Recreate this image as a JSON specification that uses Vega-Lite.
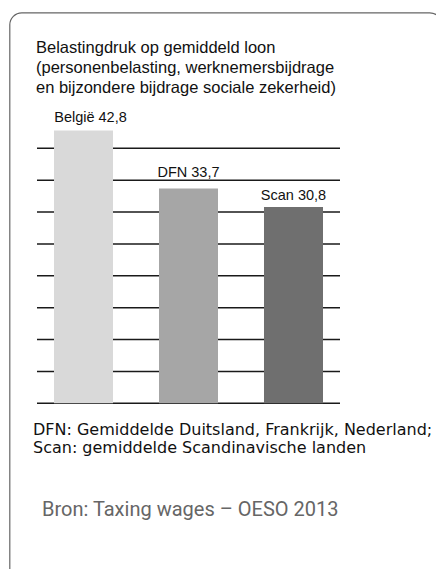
{
  "$schema": "https://vega.github.io/schema/vega-lite/v6.json",
  "width": 432,
  "height": 600,
  "padding": {"left": 9.5, "top": 12.5, "right": 0, "bottom": 0},
  "background": "white",
  "config": {
    "view": {"stroke": "#666666", "strokeWidth": 1.2, "cornerRadius": 12},
    "font": "Liberation Sans",
    "text": {"color": "#111111"}
  },
  "datasets": {
    "landen": [
      {"land": "België", "waarde": 42.8, "label": "België 42,8"},
      {"land": "DFN", "waarde": 33.7, "label": "DFN 33,7"},
      {"land": "Scan", "waarde": 30.8, "label": "Scan 30,8"}
    ],
    "raster": [
      {"tarief": 0}, {"tarief": 5}, {"tarief": 10}, {"tarief": 15}, {"tarief": 20},
      {"tarief": 25}, {"tarief": 30}, {"tarief": 35}, {"tarief": 40}
    ],
    "een": [{}]
  },
  "layer": [
    {
      "data": {"name": "raster"},
      "mark": {"type": "tick", "size": 303, "thickness": 1.5, "color": "#1a1a1a", "opacity": 1},
      "encoding": {
        "x": {"datum": "DFN", "type": "nominal", "axis": null},
        "y": {"field": "tarief", "type": "quantitative", "axis": null}
      }
    },
    {
      "data": {"name": "landen"},
      "mark": {"type": "bar"},
      "encoding": {
        "x": {
          "field": "land", "type": "nominal", "axis": null,
          "scale": {"domain": ["België", "DFN", "Scan"], "paddingInner": 0.4381, "paddingOuter": 0.7762, "align": 0.273, "round": false}
        },
        "y": {
          "field": "waarde", "type": "quantitative",
          "scale": {"domain": [-32.82, 61.3], "nice": false, "zero": false},
          "axis": {
            "title": "tarief (in%)", "domain": false, "ticks": false, "labels": false, "grid": false,
            "titleX": 12, "titleY": 240.5, "titleFontSize": 14.5, "titleFontWeight": "normal",
            "titleColor": "#111111", "titleFont": "Liberation Sans", "titleAngle": 270,
            "titleBaseline": "middle", "titleAlign": "center"
          }
        },
        "y2": {"datum": 0},
        "color": {
          "field": "land", "type": "nominal", "legend": null,
          "scale": {"domain": ["België", "DFN", "Scan"], "range": ["#d9d9d9", "#a6a6a6", "#6f6f6f"]}
        }
      }
    },
    {
      "data": {"name": "landen"},
      "transform": [{"filter": "datum.land === 'België'"}],
      "mark": {"type": "text", "fontSize": 14.5, "baseline": "alphabetic", "dy": -8.5, "dx": 7},
      "encoding": {
        "x": {"field": "land", "type": "nominal", "axis": null},
        "y": {"field": "waarde", "type": "quantitative", "axis": null},
        "text": {"field": "label"}
      }
    },
    {
      "data": {"name": "landen"},
      "transform": [{"filter": "datum.land === 'DFN'"}],
      "mark": {"type": "text", "fontSize": 14.5, "baseline": "alphabetic", "dy": -11},
      "encoding": {
        "x": {"field": "land", "type": "nominal", "axis": null},
        "y": {"field": "waarde", "type": "quantitative", "axis": null},
        "text": {"field": "label"}
      }
    },
    {
      "data": {"name": "landen"},
      "transform": [{"filter": "datum.land === 'Scan'"}],
      "mark": {"type": "text", "fontSize": 14.5, "baseline": "alphabetic", "dy": -6.5},
      "encoding": {
        "x": {"field": "land", "type": "nominal", "axis": null},
        "y": {"field": "waarde", "type": "quantitative", "axis": null},
        "text": {"field": "label"}
      }
    },
    {
      "data": {"name": "een"},
      "mark": {
        "type": "text",
        "text": ["Belastingdruk op gemiddeld loon", "(personenbelasting, werknemersbijdrage", "en bijzondere bijdrage sociale zekerheid)"],
        "align": "left", "baseline": "alphabetic", "fontSize": 16.5, "lineHeight": 19.7, "dx": -47.5
      },
      "encoding": {
        "x": {"datum": "België", "type": "nominal", "axis": null},
        "y": {"datum": 54.9, "type": "quantitative", "axis": null}
      }
    },
    {
      "data": {"name": "een"},
      "mark": {
        "type": "text",
        "text": ["DFN: Gemiddelde Duitsland, Frankrijk, Nederland;", "Scan: gemiddelde Scandinavische landen"],
        "align": "left", "baseline": "alphabetic", "fontSize": 16, "lineHeight": 18, "dx": -50.5,
        "font": "DejaVu Sans"
      },
      "encoding": {
        "x": {"datum": "België", "type": "nominal", "axis": null},
        "y": {"datum": -4.97, "type": "quantitative", "axis": null}
      }
    },
    {
      "data": {"name": "een"},
      "mark": {
        "type": "text",
        "text": "Bron: Taxing wages – OESO 2013",
        "align": "left", "baseline": "alphabetic", "fontSize": 20, "dx": -41.5,
        "font": "Roboto", "color": "#666666"
      },
      "encoding": {
        "x": {"datum": "België", "type": "nominal", "axis": null},
        "y": {"datum": -17.68, "type": "quantitative", "axis": null}
      }
    }
  ]
}
